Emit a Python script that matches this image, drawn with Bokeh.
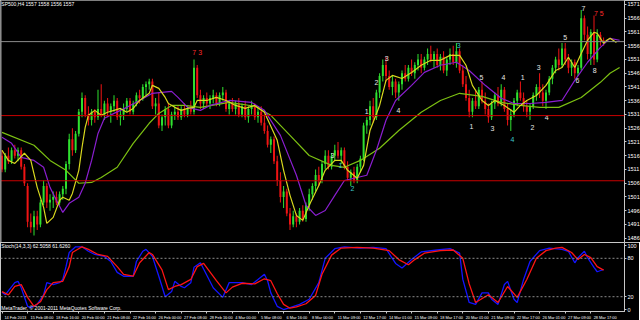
from bokeh.plotting import figure
from bokeh.layouts import column
from bokeh.models import ColumnDataSource, FixedTicker, Span, Label, Range1d
from bokeh.core.properties import value
from bokeh.embed import file_html
from bokeh.resources import INLINE

# ---------------- data (SP500, H4 bars) ----------------
opens = [1516,1511,1516,1514,1518,1516,1518,1512,1505,1492,
         1490,1494,1491,1499,1505,1499,1500,1501,1499,1502,
         1504,1513,1522,1518,1524,1532,1537,1531,1529,1532,
         1530,1533,1531,1535,1532,1534,1536,1530,1531,1533,
         1536,1532,1535,1538,1537,1541,1542,1543,1534,1535,
         1527,1530,1533,1527,1531,1532,1530,1533,1531,1533,
         1532,1548,1538,1535,1537,1535,1537,1538,1535,1538,
         1539,1533,1535,1533,1535,1531,1534,1530,1533,1534,
         1530,1532,1528,1525,1520,1522,1514,1507,1501,1503,
         1495,1491,1494,1492,1496,1493,1498,1502,1505,1509,
         1507,1513,1516,1512,1516,1518,1516,1518,1512,1508,
         1510,1507,1512,1515,1527,1529,1534,1530,1539,1545,
         1549,1545,1541,1543,1539,1542,1546,1544,1548,1546,
         1549,1551,1548,1551,1553,1551,1553,1549,1552,1547,
         1551,1553,1550,1554,1547,1542,1537,1532,1536,1534,
         1540,1536,1533,1530,1535,1538,1535,1540,1533,1529,
         1531,1536,1539,1537,1534,1532,1534,1538,1541,1539,
         1536,1539,1544,1548,1551,1549,1555,1551,1548,1550,
         1546,1548,1566,1560,1553,1561,1551,1560,1558]
highs = [1518,1517,1519,1519,1520,1519,1519,1513,1506,1495,
         1496,1496,1500,1507,1506,1502,1503,1503,1503,1505,
         1514,1524,1526,1525,1533,1539,1538,1534,1533,1533,
         1540,1542,1536,1537,1535,1538,1537,1533,1535,1537,
         1537,1536,1539,1540,1542,1543,1544,1544,1537,1539,
         1531,1534,1535,1532,1534,1534,1534,1535,1534,1536,
         1551,1549,1540,1538,1539,1538,1540,1539,1539,1541,
         1540,1536,1537,1536,1537,1535,1536,1534,1536,1535,
         1534,1534,1531,1527,1523,1523,1516,1510,1505,1504,
         1497,1496,1495,1497,1498,1499,1504,1506,1511,1512,
         1514,1518,1518,1517,1520,1521,1519,1519,1514,1511,
         1512,1513,1516,1528,1530,1536,1537,1540,1546,1551,
         1552,1547,1545,1544,1543,1547,1549,1549,1551,1550,
         1553,1553,1552,1555,1556,1554,1555,1553,1554,1552,
         1555,1556,1557,1555,1549,1545,1540,1537,1540,1541,
         1543,1539,1535,1536,1539,1541,1542,1541,1535,1533,
         1537,1540,1543,1539,1536,1535,1539,1542,1546,1542,
         1540,1545,1549,1552,1555,1557,1557,1553,1551,1551,
         1549,1569,1567,1563,1562,1567,1562,1561,1559]
lows = [1510,1510,1513,1513,1515,1514,1511,1505,1490,1488,
        1487,1489,1490,1498,1497,1496,1497,1498,1498,1500,
        1502,1511,1516,1517,1523,1530,1530,1527,1527,1528,
        1529,1530,1529,1530,1528,1532,1529,1527,1529,1532,
        1531,1531,1534,1535,1536,1538,1540,1533,1531,1526,
        1525,1527,1526,1526,1529,1529,1529,1530,1530,1531,
        1531,1537,1533,1533,1534,1533,1535,1534,1534,1536,
        1532,1531,1532,1531,1530,1530,1529,1528,1531,1529,
        1528,1527,1524,1519,1517,1513,1505,1499,1497,1494,
        1489,1490,1490,1491,1492,1492,1496,1500,1503,1505,
        1506,1511,1511,1511,1514,1515,1513,1511,1507,1505,
        1506,1506,1510,1514,1524,1527,1528,1529,1537,1543,
        1543,1540,1538,1537,1536,1540,1543,1543,1545,1544,
        1547,1546,1547,1549,1550,1548,1548,1547,1546,1545,
        1549,1549,1548,1546,1541,1536,1530,1530,1533,1533,
        1535,1531,1528,1529,1533,1534,1534,1532,1527,1525,
        1530,1534,1536,1532,1530,1529,1533,1536,1537,1534,
        1533,1538,1542,1546,1547,1548,1549,1546,1545,1544,
        1545,1547,1558,1551,1549,1549,1550,1556,1556]
closes = [1511,1516,1514,1518,1516,1518,1512,1506,1492,1490,
          1494,1491,1499,1505,1499,1500,1501,1499,1502,1504,
          1513,1522,1518,1524,1532,1537,1531,1529,1532,1530,
          1533,1531,1535,1532,1534,1536,1530,1531,1533,1536,
          1532,1535,1538,1537,1541,1542,1543,1534,1535,1527,
          1530,1533,1527,1531,1532,1530,1533,1531,1533,1532,
          1548,1538,1535,1537,1535,1537,1538,1535,1538,1539,
          1533,1535,1533,1535,1531,1534,1530,1533,1534,1530,
          1532,1528,1525,1520,1522,1514,1507,1501,1503,1495,
          1491,1494,1492,1496,1493,1498,1502,1505,1509,1507,
          1513,1516,1512,1516,1518,1516,1518,1512,1508,1510,
          1507,1512,1515,1527,1529,1534,1530,1539,1545,1549,
          1545,1541,1543,1539,1542,1546,1544,1548,1546,1549,
          1551,1548,1551,1553,1551,1553,1549,1552,1547,1551,
          1553,1550,1554,1547,1542,1537,1532,1536,1534,1540,
          1536,1533,1530,1535,1538,1535,1540,1533,1529,1531,
          1536,1539,1537,1534,1532,1534,1538,1541,1539,1536,
          1539,1544,1548,1551,1549,1555,1551,1548,1550,1546,
          1548,1566,1560,1553,1561,1551,1560,1558,1557.5]

# moving averages: bar index, value
ma_fast_x = [0,2,4,7,9,11,13,14,16,18,19,21,22,24,25,26,27,29,31,33,35,37,39,41,43,46,47,49,51,52,54,56,58,60,61,
             64,67,70,73,76,79,82,86,88,90,92,94,96,99,101,104,106,108,111,113,115,118,120,122,125,128,131,134,
             137,140,143,145,147,150,152,154,157,160,162,164,167,170,173,175,177,179,181,183,185,186,188,189,190,192]
ma_fast_y = [1518.0,1514.3,1513.2,1516.9,1514.3,1504.5,1497.2,1491.4,1493.6,1499.8,1500.9,1499.8,1502.3,1510.7,
             1519.0,1526.3,1530.7,1532.5,1530.7,1531.8,1532.5,1533.2,1531.8,1533.2,1536.1,1538.7,1541.6,1540.5,
             1537.2,1535.0,1533.6,1532.5,1533.2,1533.6,1536.1,
             1536.1,1537.2,1536.1,1534.3,1533.2,1534.3,1531.8,1521.6,1510.7,1501.6,1494.3,1492.5,1498.0,1505.2,
             1510.7,1514.3,1514.3,1510.7,1507.8,1512.5,1525.2,1534.3,1543.4,1545.2,1544.1,1546.3,1548.9,1550.7,
             1550.7,1552.5,1552.5,1548.9,1541.6,1536.1,1534.3,1536.1,1534.3,1531.8,1534.3,1536.1,1537.9,1541.6,
             1547.0,1548.1,1551.8,1548.1,1553.2,1558.0,1560.9,1560.5,1556.9,1558.0,1558.7,1557.2]
ma_mid_x = [0,3,6,10,13,15,17,19,21,24,26,28,30,32,35,39,43,47,53,55,58,62,65,71,78,82,87,92,95,98,101,104,
            107,110,114,117,120,123,128,132,137,142,146,151,156,160,165,170,175,179,183,187,190,193]
ma_mid_y = [1522.7,1520.5,1515.4,1514.3,1511.8,1504.5,1499.8,1495.4,1498.7,1500.9,1506.0,1514.3,1524.1,1529.6,
            1531.4,1533.6,1536.1,1538.7,1539.4,1537.2,1533.6,1532.5,1534.3,1536.1,1535.4,1532.5,1523.4,1508.9,
            1498.0,1494.3,1496.1,1501.6,1507.0,1507.8,1508.9,1518.0,1528.9,1536.1,1541.6,1546.3,1548.9,1550.0,
            1547.0,1541.6,1536.9,1535.0,1535.0,1535.4,1536.1,1543.4,1550.0,1555.4,1558.7,1558.0]
ma_slow_x = [0,10,15,20,24,28,31,36,41,46,49,53,57,62,71,79,84,90,96,103,107,112,118,124,131,137,143,150,
             156,162,168,174,181,187,190,193]
ma_slow_y = [1524.5,1519.8,1514.3,1510.7,1506.0,1506.3,1508.1,1511.8,1520.5,1527.8,1531.4,1534.3,1534.3,1533.6,
             1535.4,1534.0,1530.7,1523.4,1516.1,1512.5,1511.8,1514.3,1518.7,1525.2,1531.8,1536.1,1538.7,1537.6,
             1535.4,1534.3,1533.6,1533.6,1537.2,1542.7,1546.0,1548.1]

# Stochastic(14,3,3)
stoch_main_x = [0,1,4,5,6,8,9,11,13,14,16,18,19,20,21,23,25,27,29,32,34,36,38,41,42,44,45,47,49,51,53,54,56,
                57,59,60,62,66,69,71,75,78,80,82,83,84,86,88,90,93,96,99,101,104,107,112,116,120,123,125,128,
                131,136,140,143,144,146,148,150,152,153,155,157,158,160,161,163,165,168,171,175,177,179,180,
                182,183,185,186,188]
stoch_main_y = [27,23,42,44,34,5,3,8,23,42,39,42,47,67,89,98,98,91,86,83,75,58,52,52,75,91,94,83,52,20,28,44,
                36,34,42,66,73,34,19,42,42,39,47,55,45,26,5,0,3,8,16,42,80,95,98,96,97,95,72,65,78,90,93,95,
                88,47,11,8,26,26,16,8,39,44,16,11,47,75,92,96,94,91,73,81,91,81,66,59,62.5]
stoch_sig_x = [0,2,4,6,8,10,12,14,16,19,21,22,25,27,30,33,36,38,41,43,46,47,50,52,54,56,59,61,63,67,70,72,
               75,79,82,84,86,88,90,92,95,98,100,103,106,111,116,121,124,127,129,132,137,141,144,146,148,152,
               155,158,161,164,167,170,173,175,178,180,182,184,186,188]
stoch_sig_y = [28,23,36,39,19,5,12,31,42,44,67,89,98,94,86,83,67,55,52,73,89,86,62,31,36,39,47,67,72,45,26,
               35,41,40,48,45,25,8,2,4,9,22,55,85,96,97,96,92,78,70,78,88,92,93,80,40,11,23,11,36,19,47,80,92,
               96,97,89,78,86,81,67,61.6]

# horizontal levels
red_levels = [1530.6, 1506.9]
bid_price = 1557.5
price_ticks = list(range(1486, 1572, 5))
stoch_levels = [20, 80]
stoch_ticks = [0, 20, 80, 100]

# time axis labels (one every 8 bars)
time_tick_bars = list(range(0, 185, 8))
time_labels = ["14 Feb 2013", "15 Feb 08:00", "18 Feb 16:00", "20 Feb 00:00", "21 Feb 08:00",
               "22 Feb 16:00", "26 Feb 00:00", "27 Feb 08:00", "28 Feb 16:00", "4 Mar 00:00",
               "5 Mar 08:00", "6 Mar 16:00", "8 Mar 00:00", "11 Mar 09:00", "12 Mar 17:00",
               "14 Mar 01:00", "15 Mar 09:00", "18 Mar 17:00", "20 Mar 01:00", "21 Mar 09:00",
               "22 Mar 17:00", "26 Mar 01:00", "27 Mar 09:00", "28 Mar 17:00"]

# wave-count annotations: bar, price, text, kind
ann_x = [61, 142.7, 103.3, 105.8, 109.5, 114, 117, 120.2, 123.9, 146.7, 149.8, 153.3, 156.7, 159.5,
         162.7, 165.8, 167.7, 170.2, 176, 179.8, 181.7, 185.2, 186.5]
ann_y = [1553.6, 1556.1, 1516.1, 1512.5, 1504.1, 1532.1, 1542.7, 1551.4, 1532.5, 1526.7, 1544.5, 1525.9,
         1544.5, 1522.0, 1544.5, 1526.3, 1548.1, 1530.0, 1559.0, 1543.4, 1569.6, 1547.0, 1567.8]
ann_t = ["7 3", "3", "3", "1", "2", "1", "2", "3", "4", "1", "5", "3", "4", "4", "1", "2", "3", "4",
         "5", "6", "7", "8", "7 5"]
ann_k = ["r", "c", "w", "c", "c", "w", "w", "w", "w", "w", "w", "w", "w", "c", "w", "w", "w", "w",
         "w", "w", "w", "w", "r"]

# ---------------- styling ----------------
BULL = "#2fe02f"
BEAR = "#ee1414"
FONT = "Liberation Sans"
AX = "#c8c8c8"
kind_color = {"r": "#ff2a2a", "c": "#3cc8c8", "w": "#e6e6e6"}
FRAME_W = 624
X0, X1 = -0.47, 194.53
TIME_FS = 3.9  # px

n = len(closes)
idx = list(range(n))
col = [BULL if c >= o else BEAR for o, c in zip(opens, closes)]
src = ColumnDataSource(dict(x=idx, h=highs, l=lows,
                            top=[max(o, c) for o, c in zip(opens, closes)],
                            bot=[min(o, c) for o, c in zip(opens, closes)], color=col))

x_range = Range1d(X0, X1)

p = figure(frame_width=FRAME_W, frame_height=242, x_range=x_range, y_range=Range1d(1484.45, 1572.45),
           x_axis_location=None, y_axis_location="right", output_backend="svg", toolbar_location=None,
           min_border_left=0, min_border_right=0, min_border_top=0, min_border_bottom=0,
           background_fill_color="black", border_fill_color="black", outline_line_color=None)
p.grid.visible = False
ya = p.yaxis[0]
ya.ticker = FixedTicker(ticks=price_ticks)
ya.major_label_text_font = FONT
ya.major_label_text_font_size = "5.5px"
ya.major_label_text_color = "white"
ya.major_label_standoff = 1
ya.major_tick_out = 2
ya.major_tick_in = 0
ya.minor_tick_out = 0
ya.minor_tick_in = 0
ya.major_tick_line_color = AX
ya.axis_line_color = AX

for lvl in red_levels:
    p.add_layout(Span(location=lvl, dimension="width", line_color="#c80000", line_width=1))
p.add_layout(Span(location=bid_price, dimension="width", line_color="#8c8c8c", line_width=1))
p.add_layout(Span(location=X0, dimension="height", line_color="#9a9a9a", line_width=2))

p.segment(x0="x", y0="l", x1="x", y1="h", line_color="color", line_width=1, source=src)
p.vbar(x="x", width=0.62, top="top", bottom="bot", fill_color="color", line_color=None, source=src)

p.line(ma_slow_x, ma_slow_y, line_color="#7cc012", line_width=1.2)
p.line(ma_mid_x, ma_mid_y, line_color="#8a1ed0", line_width=1.2)
p.line(ma_fast_x, ma_fast_y, line_color="#d8d81e", line_width=1.2)

p.text(x=ann_x, y=ann_y, text=ann_t, text_color=[kind_color[k] for k in ann_k],
       text_font=value(FONT), text_font_size="7px", text_align="center", text_baseline="middle")

p.add_layout(Label(x=-0.2, y=1571.2, text="SP500,H4 1557 1558 1556 1557", text_font=FONT,
                   text_font_size="5px", text_color="white", text_baseline="middle"))

for lvl in red_levels:
    p.add_layout(Label(x=X1, y=lvl, text=f"{lvl:.0f}", text_font=FONT, text_font_size="5.5px",
                       text_color="white", background_fill_color="#e00000", text_baseline="middle",
                       x_offset=1))
p.add_layout(Label(x=X1, y=bid_price, text=f"{bid_price:.0f}", text_font=FONT, text_font_size="5.5px",
                   text_color="black", background_fill_color="white", text_baseline="middle", x_offset=1))

# ---------------- stochastic window ----------------
s = figure(frame_width=FRAME_W, frame_height=69, x_range=x_range, y_range=Range1d(-3.1, 104.7),
           x_axis_location="below", y_axis_location="right", output_backend="svg", toolbar_location=None,
           min_border_left=0, min_border_right=0, min_border_top=0, min_border_bottom=0,
           background_fill_color="black", border_fill_color="black", outline_line_color=AX)
s.grid.visible = False
sy = s.yaxis[0]
sy.ticker = FixedTicker(ticks=stoch_ticks)
sy.major_label_text_font = FONT
sy.major_label_text_font_size = "5.5px"
sy.major_label_text_color = "white"
sy.major_label_standoff = 1
sy.major_tick_out = 2
sy.major_tick_in = 0
sy.minor_tick_out = 0
sy.minor_tick_in = 0
sy.major_tick_line_color = AX
sy.axis_line_color = AX

# MetaTrader writes each time label to the right of its tick: put the (centred) label
# position half a label width to the right of the bar, and keep the tick mark at the bar.
px_per_bar = FRAME_W / (X1 - X0)
label_pos = [b + (len(t) * 0.55 * TIME_FS / 2 + 1.5) / px_per_bar for b, t in zip(time_tick_bars, time_labels)]
sx = s.xaxis[0]
sx.ticker = FixedTicker(ticks=label_pos, minor_ticks=time_tick_bars)
sx.major_label_overrides = {pos: t for pos, t in zip(label_pos, time_labels)}
sx.major_label_text_font = FONT
sx.major_label_text_font_size = f"{TIME_FS}px"
sx.major_label_text_color = "white"
sx.major_label_standoff = 1
sx.major_tick_out = 0
sx.major_tick_in = 0
sx.minor_tick_out = 2
sx.minor_tick_in = 0
sx.minor_tick_line_color = AX
sx.axis_line_color = AX

for lvl in stoch_levels:
    s.add_layout(Span(location=lvl, dimension="width", line_color="#8c8c8c", line_width=1, line_dash="2 2"))

s.line(stoch_main_x, stoch_main_y, line_color="#1414ff", line_width=1.3)
s.line(stoch_sig_x, stoch_sig_y, line_color="#ff1414", line_width=1.3)

s.add_layout(Label(x=-0.2, y=98.5, text="Stoch(14,3,3) 62.5058 61.6260", text_font=FONT,
                   text_font_size="5px", text_color="white", text_baseline="middle"))
s.add_layout(Label(x=-0.2, y=3, text="MetaTrader, \u00a9 2001-2011 MetaQuotes Software Corp.", text_font=FONT,
                   text_font_size="5px", text_color="white", text_baseline="middle"))

layout = column(p, s, spacing=0)
open("out.html", "w").write(file_html(layout, INLINE))
